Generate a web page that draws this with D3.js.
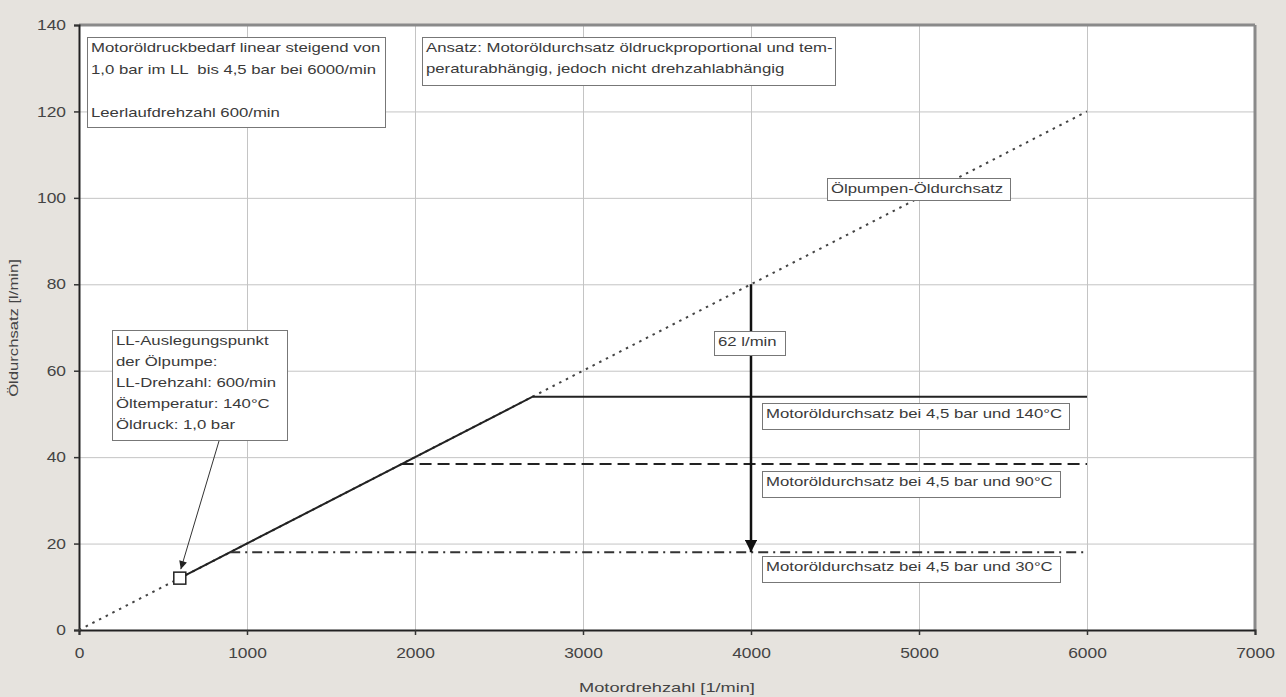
<!DOCTYPE html>
<html>
<head>
<meta charset="utf-8">
<script src="https://cdn.jsdelivr.net/npm/d3@7"></script>
<style>
  html, body { margin: 0; padding: 0; background: #e6e3de; }
  svg { display: block; font-family: "Liberation Sans", Arial, sans-serif; }
  text { white-space: pre; }
</style>
</head>
<body>
<svg id="chart" width="1286" height="697"></svg>
<script>
// Axis ticks
const speedTicks = [0, 1000, 2000, 3000, 4000, 5000, 6000, 7000];
const flowTicks = [0, 20, 40, 60, 80, 100, 120, 140];

// Oil pump delivery (proportional to engine speed)
const pumpSpeed = [0, 6000];
const pumpFlow = [0, 120];

// Engine oil demand at 4.5 bar for three oil temperatures
const demand140Speed = [600, 2700, 6000];
const demand140Flow = [12, 54, 54];
const demand90Speed = [1920, 6000];
const demand90Flow = [38.4, 38.4];
const demand30Speed = [900, 6000];
const demand30Flow = [18, 18];

// Idle design point of the pump
const designSpeed = [600];
const designFlow = [12];

// Surplus flow at 4000/min
const surplusSpeed = 4000;
const surplusFrom = 80;
const surplusTo = 18;

// Wide glyph look: horizontal stretch factors for the lettering
const BOX_FS = 12.5, BOX_SX = 1.34;
const TICK_FS = 14.5, TICK_SX = 1.2;
const TITLE_FS = 13, TITLE_SX = 1.4;

const svg = d3.select("#chart");
const x = d3.scaleLinear().domain([0, 7000]).range([79, 1255]);
const y = d3.scaleLinear().domain([0, 140]).range([630, 25]);

const defs = svg.append("defs");
defs.append("marker").attr("id", "headBig").attr("viewBox", "0 0 10 10")
  .attr("refX", 10).attr("refY", 5).attr("markerWidth", 5).attr("markerHeight", 5)
  .attr("markerUnits", "strokeWidth").attr("orient", "auto")
  .append("path").attr("d", "M0,0 L10,5 L0,10 Z").attr("fill", "#111");
defs.append("marker").attr("id", "headSmall").attr("viewBox", "0 0 10 10")
  .attr("refX", 10).attr("refY", 5).attr("markerWidth", 9).attr("markerHeight", 8)
  .attr("markerUnits", "strokeWidth").attr("orient", "auto")
  .append("path").attr("d", "M0,0 L10,5 L0,10 Z").attr("fill", "#222");

// Plot area
svg.append("rect").attr("x", x(0)).attr("y", y(140))
  .attr("width", x(7000) - x(0)).attr("height", y(0) - y(140)).attr("fill", "#fff");

// Grid
const grid = svg.append("g").attr("stroke", "#c4c4c4").attr("stroke-width", 1);
grid.selectAll("line.v").data(speedTicks.filter(d => d > 0 && d < 7000)).join("line")
  .attr("x1", d => x(d) + 0.5).attr("x2", d => x(d) + 0.5)
  .attr("y1", y(140)).attr("y2", y(0));
grid.selectAll("line.h").data(flowTicks.filter(d => d > 0 && d < 140)).join("line")
  .attr("y1", d => y(d) + 0.5).attr("y2", d => y(d) + 0.5)
  .attr("x1", x(0)).attr("x2", x(7000));

// Frame: top and right edges
svg.append("line").attr("x1", x(0)).attr("x2", x(7000)).attr("y1", y(140)).attr("y2", y(140))
  .attr("stroke", "#8a8a8a").attr("stroke-width", 3);
svg.append("line").attr("x1", x(7000)).attr("x2", x(7000)).attr("y1", y(140)).attr("y2", y(0))
  .attr("stroke", "#8a8a8a").attr("stroke-width", 3);

// Axes
const xAxis = svg.append("g").attr("transform", `translate(0,${y(0)})`)
  .call(d3.axisBottom(x).tickValues(speedTicks).tickFormat(d3.format("d")).tickSize(5).tickPadding(13));
const yAxis = svg.append("g").attr("transform", `translate(${x(0)},0)`)
  .call(d3.axisLeft(y).tickValues(flowTicks).tickFormat(d3.format("d")).tickSize(5).tickPadding(8));
[xAxis, yAxis].forEach(a => {
  a.select(".domain").attr("stroke", "#222").attr("stroke-width", 2);
  a.selectAll(".tick line").attr("stroke", "#333").attr("stroke-width", 1.5);
  a.selectAll(".tick text").attr("fill", "#444").attr("font-size", TICK_FS)
    .attr("font-family", "Liberation Sans, Arial, sans-serif");
});
xAxis.selectAll(".tick text").attr("transform", `scale(${TICK_SX},1)`);
yAxis.selectAll(".tick text").each(function () {
  const t = d3.select(this);
  t.attr("x", +t.attr("x") / TICK_SX).attr("transform", `scale(${TICK_SX},1)`);
});

svg.append("text").attr("transform", `translate(667,692) scale(${TITLE_SX},1)`).attr("text-anchor", "middle")
  .attr("font-size", TITLE_FS).attr("fill", "#444").text("Motordrehzahl [1/min]");
svg.append("text").attr("transform", `translate(18,328) rotate(-90) scale(1.28,1)`).attr("text-anchor", "middle")
  .attr("font-size", TITLE_FS).attr("fill", "#444").text("Öldurchsatz [l/min]");

// Series
const line = d3.line().x(d => x(d[0])).y(d => y(d[1]));
const pairs = (a, b) => a.map((v, i) => [v, b[i]]);

svg.append("path").datum(pairs(pumpSpeed, pumpFlow)).attr("d", line)
  .attr("fill", "none").attr("stroke", "#444").attr("stroke-width", 2).attr("stroke-dasharray", "2.5,5");
svg.append("path").datum(pairs(demand140Speed, demand140Flow)).attr("d", line)
  .attr("fill", "none").attr("stroke", "#222").attr("stroke-width", 2);
svg.append("path").datum(pairs(demand90Speed, demand90Flow)).attr("d", line)
  .attr("fill", "none").attr("stroke", "#222").attr("stroke-width", 2).attr("stroke-dasharray", "12,6");
svg.append("path").datum(pairs(demand30Speed, demand30Flow)).attr("d", line)
  .attr("fill", "none").attr("stroke", "#333").attr("stroke-width", 2).attr("stroke-dasharray", "10,5,2,5");

// Surplus arrow
svg.append("line").attr("x1", x(surplusSpeed)).attr("x2", x(surplusSpeed))
  .attr("y1", y(surplusFrom)).attr("y2", y(surplusTo))
  .attr("stroke", "#111").attr("stroke-width", 2.5).attr("marker-end", "url(#headBig)");

// Design point marker
svg.selectAll("rect.pt").data(pairs(designSpeed, designFlow)).join("rect")
  .attr("x", d => x(d[0]) - 6).attr("y", d => y(d[1]) - 6).attr("width", 12).attr("height", 12)
  .attr("fill", "#fff").attr("stroke", "#222").attr("stroke-width", 1.5);

// Callout arrow from the design point box
svg.append("line").attr("x1", 219).attr("x2", x(designSpeed[0]) + 1).attr("y1", 441).attr("y2", y(designFlow[0]) - 9)
  .attr("stroke", "#333").attr("stroke-width", 1).attr("marker-end", "url(#headSmall)");

// Text boxes
function textBox(x0, y0, w, h, lines, lh) {
  const g = svg.append("g");
  g.append("rect").attr("x", x0 + 0.5).attr("y", y0 + 0.5).attr("width", w).attr("height", h)
    .attr("fill", "#fff").attr("stroke", "#777").attr("stroke-width", 1);
  lines.forEach((s, i) => {
    g.append("text")
      .attr("transform", `translate(${x0 + 4},${y0 + 15 + i * lh}) scale(${BOX_SX},1)`)
      .attr("font-size", BOX_FS).attr("fill", "#3a3a3a").text(s);
  });
}

textBox(87, 37, 298, 90, [
  "Motoröldruckbedarf linear steigend von",
  "1,0 bar im LL  bis 4,5 bar bei 6000/min",
  "",
  "Leerlaufdrehzahl 600/min"
], 21.5);
textBox(422, 37, 413, 48, [
  "Ansatz: Motoröldurchsatz öldruckproportional und tem-",
  "peraturabhängig, jedoch nicht drehzahlabhängig"
], 21);
textBox(827, 178, 183, 22, ["Ölpumpen-Öldurchsatz"], 20);
textBox(112, 330, 175, 110, [
  "LL-Auslegungspunkt",
  "der Ölpumpe:",
  "LL-Drehzahl: 600/min",
  "Öltemperatur: 140°C",
  "Öldruck: 1,0 bar"
], 21);
textBox(714, 331, 71, 24, ["62 l/min"], 20);
textBox(762, 403, 307, 26, ["Motoröldurchsatz bei 4,5 bar und 140°C"], 20);
textBox(762, 471, 298, 26, ["Motoröldurchsatz bei 4,5 bar und 90°C"], 20);
textBox(762, 556, 298, 26, ["Motoröldurchsatz bei 4,5 bar und 30°C"], 20);
</script>
</body>
</html>
